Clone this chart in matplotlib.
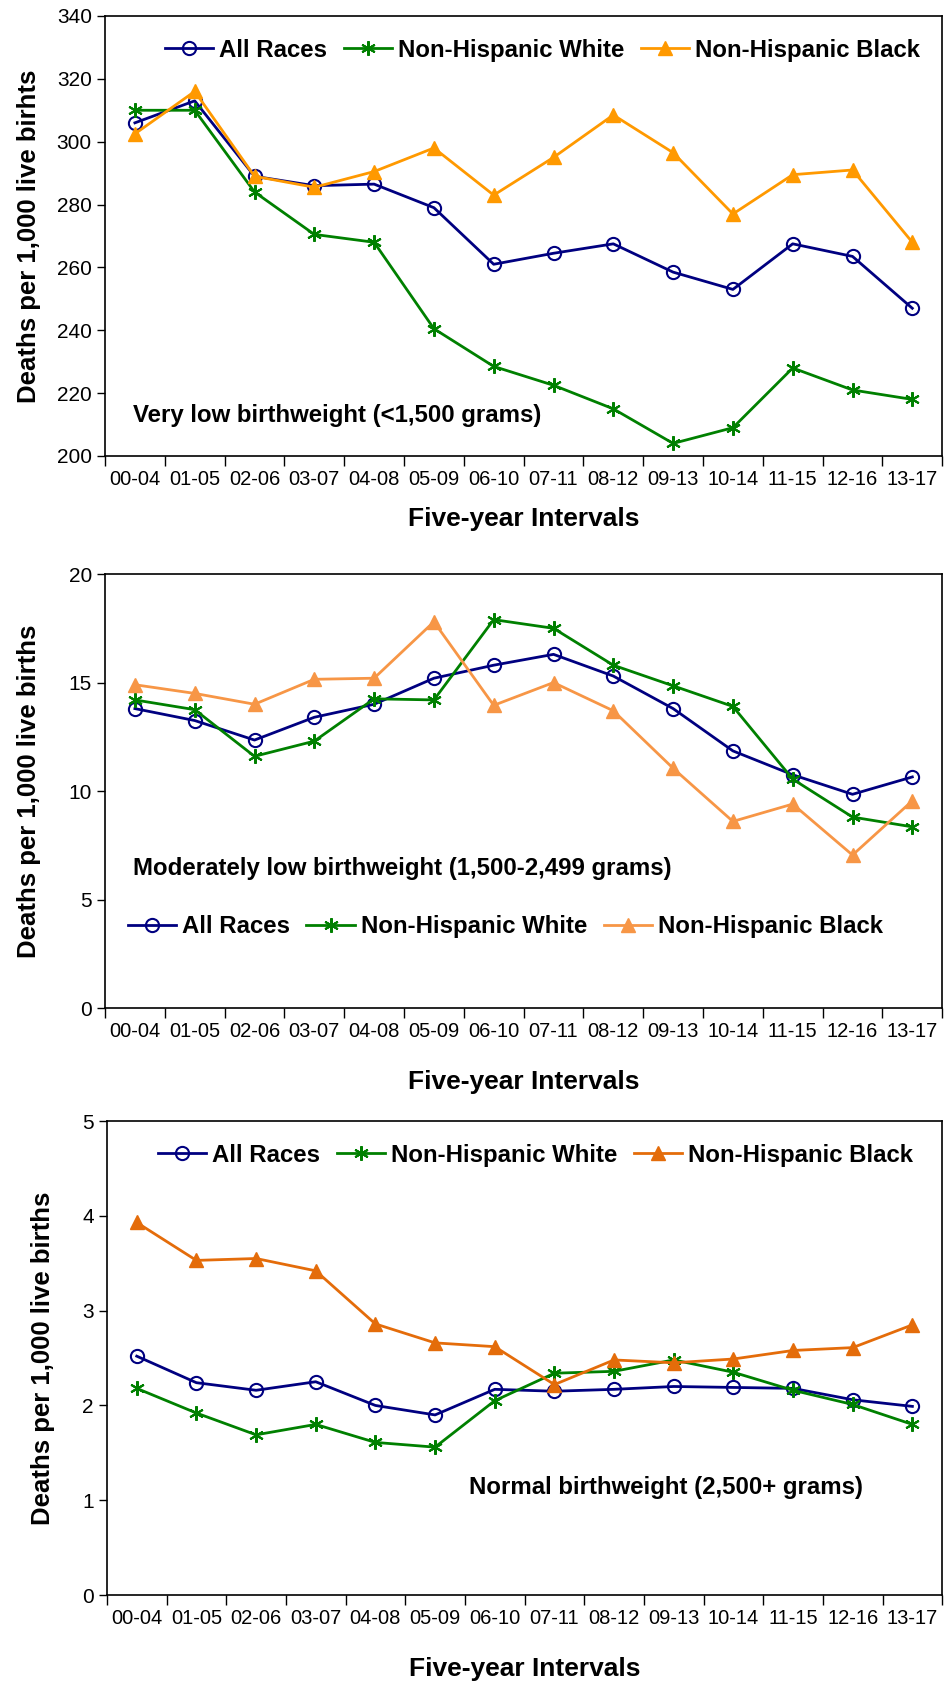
import numpy as np
import matplotlib
matplotlib.use("Agg")
import matplotlib.pyplot as plt

plt.rcParams['font.family'] = ['Liberation Sans', 'DejaVu Sans']

intervals = ["00-04", "01-05", "02-06", "03-07", "04-08", "05-09", "06-10",
             "07-11", "08-12", "09-13", "10-14", "11-15", "12-16", "13-17"]

# very low birthweight
vlbw_all = [306, 313, 289, 286, 286.5, 279, 261, 264.5, 267.5, 258.5, 253, 267.5, 263.5, 247]
vlbw_white = [310, 310, 284, 270.5, 268, 240.5, 228.5, 222.5, 215, 204, 209, 228, 221, 218]
vlbw_black = [302.5, 316, 289, 285.5, 290.5, 298, 283, 295, 308.5, 296.5, 277, 289.5, 291, 268]

# moderately low birthweight
mlbw_all = [13.8, 13.25, 12.35, 13.4, 14.0, 15.2, 15.8, 16.3, 15.3, 13.8, 11.85, 10.75, 9.85, 10.65]
mlbw_white = [14.2, 13.75, 11.6, 12.3, 14.25, 14.2, 17.9, 17.5, 15.8, 14.85, 13.9, 10.55, 8.8, 8.35]
mlbw_black = [14.9, 14.5, 14.0, 15.15, 15.2, 17.8, 13.95, 15.0, 13.7, 11.05, 8.6, 9.4, 7.05, 9.55]

# normal birthweight
nbw_all = [2.52, 2.24, 2.16, 2.25, 2.0, 1.9, 2.17, 2.15, 2.17, 2.20, 2.19, 2.18, 2.06, 1.99]
nbw_white = [2.18, 1.92, 1.69, 1.80, 1.61, 1.56, 2.05, 2.34, 2.36, 2.48, 2.35, 2.16, 2.01, 1.80]
nbw_black = [3.93, 3.53, 3.55, 3.42, 2.86, 2.66, 2.62, 2.22, 2.48, 2.45, 2.49, 2.58, 2.61, 2.85]

fig = plt.figure(figsize=(9.46, 16.82), dpi=100)

panels = [
    dict(rect=[0.111, 0.7289, 0.885, 0.2616], data=(vlbw_all, vlbw_white, vlbw_black),
         black="#FF9900", ylim=(200, 340), yticks=np.arange(200, 341, 20),
         ylabel="Deaths per 1,000 live birhts", ylx=-0.076, xly=-0.115,
         note="Very low birthweight (<1,500 grams)", nx=0.033, ny=0.093,
         legx=0.523, legy=0.922),
    dict(rect=[0.111, 0.4007, 0.885, 0.258], data=(mlbw_all, mlbw_white, mlbw_black),
         black="#F79646", ylim=(0, 20), yticks=np.arange(0, 21, 5),
         ylabel="Deaths per 1,000 live births", ylx=-0.076, xly=-0.143,
         note="Moderately low birthweight (1,500-2,499 grams)", nx=0.033, ny=0.321,
         legx=0.478, legy=0.188),
    dict(rect=[0.113, 0.0517, 0.883, 0.2818], data=(nbw_all, nbw_white, nbw_black),
         black="#E46C0A", ylim=(0, 5), yticks=np.arange(0, 6, 1),
         ylabel="Deaths per 1,000 live births", ylx=-0.062, xly=-0.131,
         note="Normal birthweight (2,500+ grams)", nx=0.434, ny=0.226,
         legx=0.513, legy=0.928),
]

x = np.arange(len(intervals))
for p in panels:
    ax = fig.add_axes(p["rect"])
    all_r, white, black = p["data"]
    ax.plot(x, all_r, color="#000080", lw=2, marker="o", ms=9.5, mfc="none",
            mew=1.5, label="All Races")
    ax.plot(x, white, color="#008000", lw=2, marker=(6, 2, 0), ms=10.5,
            mew=1.5, label="Non-Hispanic White")
    ax.plot(x, black, color=p["black"], lw=2, marker="^", ms=10,
            label="Non-Hispanic Black")
    ax.set_xlim(-0.5, len(intervals) - 0.5)
    ax.set_ylim(*p["ylim"])
    ax.set_yticks(p["yticks"])
    ax.set_xticks(np.arange(-0.5, len(intervals)), labels=[])
    ax.set_xticks(x, labels=intervals, minor=True)
    ax.tick_params(axis="x", which="major", length=7, direction="out", width=1)
    ax.tick_params(axis="x", which="minor", length=0, pad=10, labelsize=14.5)
    ax.tick_params(axis="y", length=6, width=1, labelsize=15)
    for s in ax.spines.values():
        s.set_linewidth(1.2)
    ax.set_ylabel(p["ylabel"], fontsize=18.5, fontweight="bold")
    ax.yaxis.set_label_coords(p["ylx"], 0.5)
    ax.set_xlabel("Five-year Intervals", fontsize=19, fontweight="bold")
    ax.xaxis.set_label_coords(0.5, p["xly"])
    ax.text(p["nx"], p["ny"], p["note"], transform=ax.transAxes, fontsize=17.3,
            fontweight="bold", va="center", ha="left")
    ax.legend(loc="center", bbox_to_anchor=(p["legx"], p["legy"]), ncol=3,
              frameon=False, prop=dict(size=17.3, weight="bold"),
              handlelength=2.0, handletextpad=0.25, columnspacing=0.7)

fig.savefig("out.png", dpi=100)
